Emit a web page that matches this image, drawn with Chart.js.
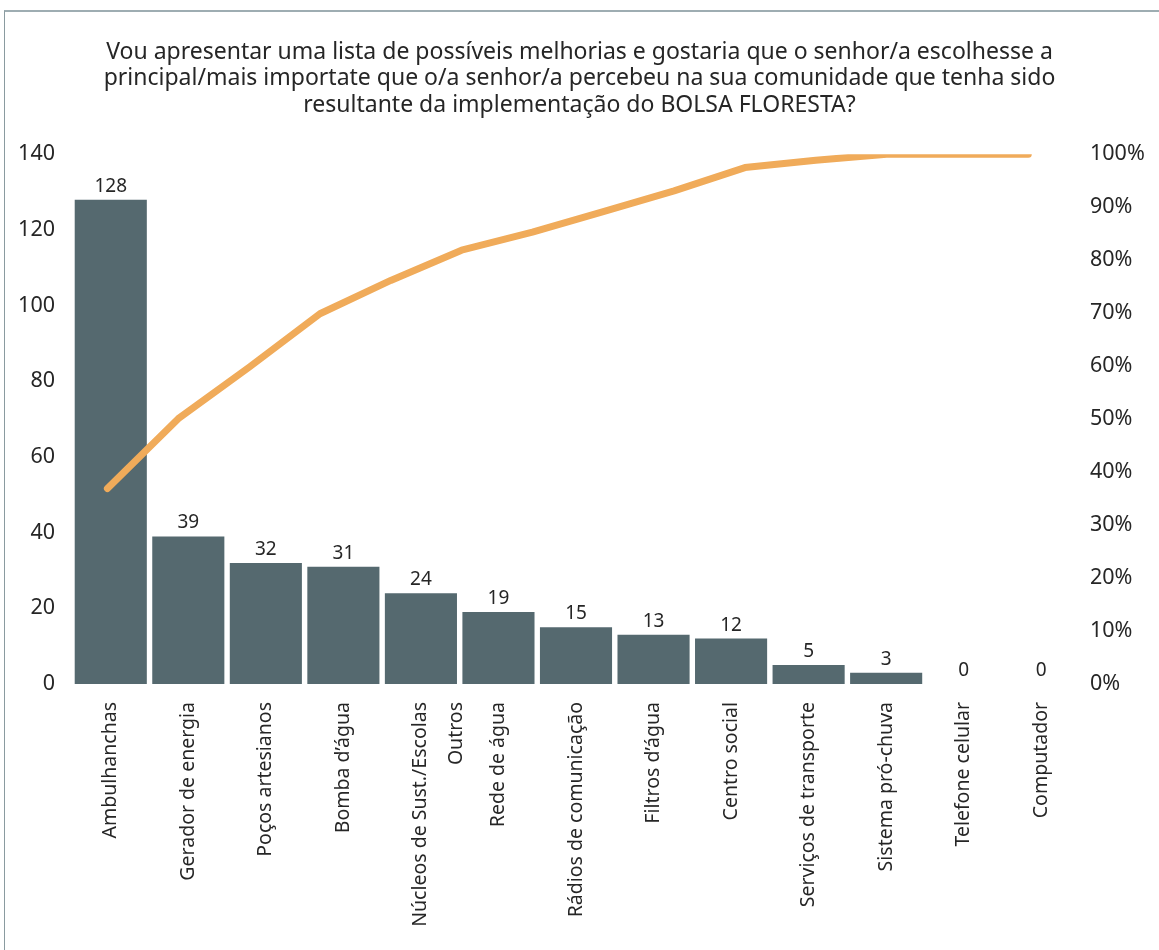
<!DOCTYPE html>
<html>
<head>
<meta charset="utf-8">
<script src="https://cdn.jsdelivr.net/npm/chart.js@4"></script>
<style>
  body { margin: 0; background: #fff; }
  #wrap { position: relative; width: 1159px; height: 950px; }
  #frame { position: absolute; left: 4px; top: 10px; right: 0; bottom: 0;
           border-top: 2px solid #9eadb2; border-left: 1px solid #8a9ba0; pointer-events: none; }
  canvas { position: absolute; left: 0; top: 0; }
</style>
</head>
<body>
<div id="wrap">
  <canvas id="chart" width="1159" height="950"></canvas>
  <div id="frame"></div>
</div>
<script>
// Categories and counts (bars)
const categories = [
    "Ambulhanchas", "Gerador de energia", "Poços artesianos", "Bomba d’água",
    ["Núcleos de Sust./Escolas", "Outros"], "Rede de água", "Rádios de comunicação",
    "Filtros d’água", "Centro social", "Serviços de transporte", "Sistema pró-chuva",
    "Telefone celular", "Computador"
];
const counts = [128, 39, 32, 31, 24, 19, 15, 13, 12, 5, 3, 0, 0];

// Cumulative percentage line (on its own category axis)
const cumulative = [36.9, 50.1, 59.8, 69.9, 76.2, 81.9, 85.3, 89.2, 93.1, 97.5, 98.9, 100, 100, 100];

const titleLines = [
    "Vou apresentar uma lista de possíveis melhorias e gostaria que o senhor/a escolhesse a",
    "principal/mais importate que o/a senhor/a percebeu na sua comunidade que tenha sido",
    "resultante da implementação do BOLSA FLORESTA?"
];

const FONT = "'Noto Sans', 'Open Sans', sans-serif";
const TEXT = "#262626";

// value labels above bars
const barLabels = {
    id: "barLabels",
    afterDatasetsDraw(chart) {
        const ctx = chart.ctx;
        const meta = chart.getDatasetMeta(0);
        ctx.save();
        ctx.font = "19px " + FONT;
        ctx.fillStyle = TEXT;
        ctx.textAlign = "center";
        ctx.textBaseline = "bottom";
        meta.data.forEach((bar, i) => {
            ctx.fillText(String(counts[i]), bar.x, bar.y - 4);
        });
        ctx.restore();
    }
};

new Chart(document.getElementById("chart").getContext("2d"), {
    type: "bar",
    data: {
        labels: categories,
        datasets: [
            {
                type: "bar",
                data: counts,
                xAxisID: "x",
                yAxisID: "y",
                backgroundColor: "#55696f",
                barPercentage: 0.93,
                categoryPercentage: 1,
                grouped: false,
                order: 1
            },
            {
                type: "line",
                data: cumulative.map((v, i) => ({ x: i, y: v })),
                xAxisID: "x2",
                yAxisID: "y2",
                borderColor: "#f0ab5a",
                borderWidth: 7,
                borderCapStyle: "round",
                borderJoinStyle: "round",
                pointRadius: 0,
                tension: 0,
                order: 0
            }
        ]
    },
    options: {
        responsive: false,
        animation: false,
        layout: { padding: 0 },
        plugins: {
            legend: { display: false },
            tooltip: { enabled: false },
            title: {
                display: true,
                text: titleLines,
                color: TEXT,
                font: { family: FONT, size: 23, weight: "normal", lineHeight: 1.15 },
                padding: { top: 39, bottom: 36 }
            }
        },
        scales: {
            x: {
                type: "category",
                offset: true,
                grid: { display: false },
                border: { display: false },
                ticks: {
                    autoSkip: false,
                    minRotation: 90,
                    maxRotation: 90,
                    padding: 10,
                    color: TEXT,
                    font: ctx => ({ family: FONT, size: 19.5, lineHeight: ctx.index === 4 ? 1.8 : 1.2 })
                },
                afterFit(scale) { scale.height = 266; }
            },
            x2: {
                type: "linear",
                display: false,
                offset: false,
                grid: { offset: false },
                min: -0.5,
                max: 13.73
            },
            y: {
                position: "left",
                min: 0,
                max: 140,
                grid: { display: false },
                border: { display: false },
                ticks: {
                    stepSize: 20,
                    padding: 9,
                    color: TEXT,
                    font: { family: FONT, size: 21.5 }
                },
                afterFit(scale) { scale.width = 72; }
            },
            y2: {
                position: "right",
                min: 0,
                max: 100,
                grid: { display: false },
                border: { display: false },
                ticks: {
                    stepSize: 10,
                    padding: 2,
                    color: TEXT,
                    font: { family: FONT, size: 21.5 },
                    callback: v => v + "%"
                },
                afterFit(scale) { scale.width = 79; }
            }
        }
    },
    plugins: [barLabels]
});
</script>
</body>
</html>
